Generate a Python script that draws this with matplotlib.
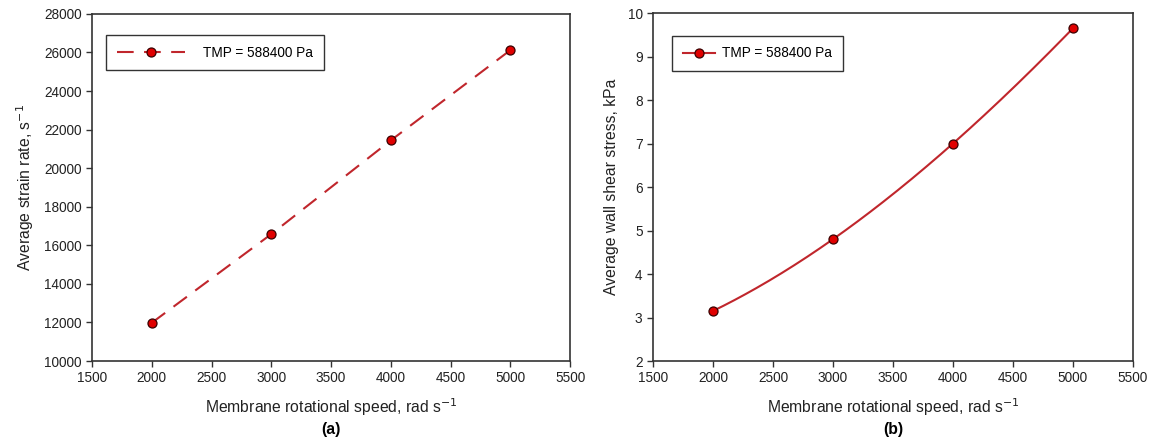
import numpy as np
import matplotlib.pyplot as plt

plt.rcParams['font.family'] = ['Liberation Sans', 'DejaVu Sans']

speed = [2000, 3000, 4000, 5000]
strain_rate = [11980, 16580, 21440, 26120]
wall_shear = [3.15, 4.80, 7.00, 9.65]
legend_label = 'TMP = 588400 Pa'

line_col = '#c0262c'
face_col = '#e00000'

fig = plt.figure(figsize=(11.5, 4.41), dpi=100)
ax1 = fig.add_axes([0.080, 0.1814, 0.4157, 0.787])
ax2 = fig.add_axes([0.5678, 0.1814, 0.4174, 0.789])

for ax in (ax1, ax2):
    for s in ax.spines.values():
        s.set_color('#333333')
        s.set_linewidth(1.2)
    ax.tick_params(direction='out', length=4, width=1.0, colors='#333333',
                   labelsize=9.8, labelcolor='#222222')
    ax.set_xlim(1500, 5500)
    ax.set_xticks(np.arange(1500, 5501, 500))
    ax.set_xlabel('Membrane rotational speed, rad s$^{-1}$', fontsize=11.3,
                  color='#222222', labelpad=8)

# (a) strain rate
ax1.plot(speed, strain_rate, color=line_col, lw=1.5, dashes=(8, 5),
         marker='o', ms=6.5, mfc=face_col, mec='#3a0000', mew=0.9,
         label=legend_label)
ax1.set_ylim(10000, 28000)
ax1.set_yticks(np.arange(10000, 28001, 2000))
ax1.set_ylabel('Average strain rate, s$^{-1}$', fontsize=11.3, color='#222222', labelpad=6)
leg1 = ax1.legend(loc='upper left', bbox_to_anchor=(0.015, 0.96), fontsize=9.8,
                  handlelength=5, handletextpad=1.3, borderpad=0.8,
                  fancybox=False, edgecolor='#333333', framealpha=1)
leg1.get_frame().set_linewidth(1.0)

# (b) wall shear stress, smooth curve through the points
coef = np.polyfit(speed, wall_shear, 3)
xs = np.linspace(speed[0], speed[-1], 200)
ax2.plot(xs, np.polyval(coef, xs), color=line_col, lw=1.5)
ax2.plot(speed, wall_shear, linestyle='-', color=line_col, lw=0,
         marker='o', ms=6.5, mfc=face_col, mec='#3a0000', mew=0.9)
h = ax2.plot([], [], color=line_col, lw=1.5, marker='o', ms=6.5,
             mfc=face_col, mec='#3a0000', mew=0.9)[0]
ax2.set_ylim(2, 10)
ax2.set_yticks(np.arange(2, 11, 1))
ax2.set_ylabel('Average wall shear stress, kPa', fontsize=11.3, color='#222222', labelpad=6)
leg2 = ax2.legend([h], [legend_label], loc='upper left', bbox_to_anchor=(0.025, 0.955),
                  fontsize=9.8, handlelength=2.4, handletextpad=0.5, borderpad=0.8,
                  fancybox=False, edgecolor='#333333', framealpha=1)
leg2.get_frame().set_linewidth(1.0)

fig.text(331 / 1150, 0.026, '(a)', ha='center', va='center', fontsize=11.3, fontweight='bold')
fig.text(893 / 1150, 0.026, '(b)', ha='center', va='center', fontsize=11.3, fontweight='bold')

fig.savefig('out.png', dpi=100)
